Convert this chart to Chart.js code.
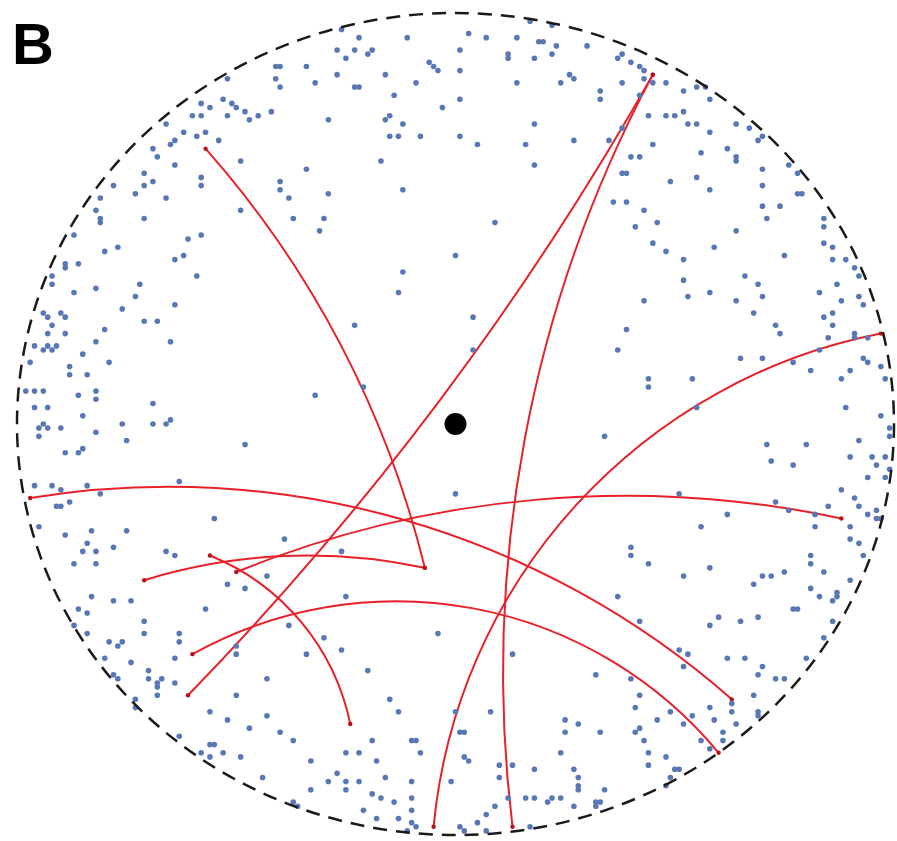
<!DOCTYPE html>
<html>
<head>
<meta charset="utf-8">
<script src="https://cdn.jsdelivr.net/npm/chart.js@4.4.1/dist/chart.umd.min.js"></script>
<style>
  html, body { margin: 0; padding: 0; background: #fff; }
  #wrap { width: 897px; height: 841px; }
</style>
</head>
<body>
<div id="wrap"><canvas id="diskChart" width="897" height="841"></canvas></div>
<script>
const panelLabel = 'B';

// centre of the disk
const centrePoint = [[0, 0]];

// sample points in disk coordinates (unit radius)
const samplePoints = [
  [-0.58,0.78],[-0.56,0.77],[-0.53,0.79],[-0.60,0.75],[-0.58,0.75],[-0.66,0.73],[-0.62,0.71],[-0.59,0.70],
  [-0.57,0.71],[-0.64,0.69],[-0.65,0.68],[-0.54,0.69],[-0.69,0.67],[-0.68,0.65],[-0.64,0.63],[-0.58,0.60],
  [-0.58,0.58],[-0.71,0.61],[-0.71,0.58],[-0.69,0.59],[-0.73,0.56],[-0.78,0.58],[-0.66,0.55],[-0.81,0.55],
  [-0.82,0.52],[-0.81,0.50],[-0.81,0.49],[-0.71,0.50],[-0.87,0.46],[-0.61,0.45],[-0.58,0.46],[-0.77,0.43],
  [-0.80,0.42],[-0.86,0.39],[-0.89,0.39],[-0.89,0.38],[-0.64,0.40],[-0.62,0.41],[-0.92,0.36],[-0.59,0.36],
  [-0.26,0.96],[-0.22,0.94],[-0.23,0.91],[-0.27,0.91],[-0.25,0.89],[-0.20,0.90],[-0.19,0.91],[-0.11,0.94],
  [-0.06,0.88],[-0.05,0.87],[-0.04,0.86],[-0.41,0.87],[-0.40,0.87],[-0.34,0.87],[-0.32,0.83],[-0.41,0.84],
  [-0.40,0.82],[-0.52,0.84],[-0.27,0.85],[-0.23,0.82],[-0.22,0.82],[-0.16,0.85],[-0.09,0.83],[-0.14,0.80],
  [-0.03,0.77],[-0.51,0.78],[-0.50,0.77],[-0.48,0.76],[-0.52,0.75],[-0.47,0.74],[-0.45,0.75],[-0.42,0.76],
  [-0.29,0.74],[-0.15,0.75],[-0.16,0.74],[-0.12,0.73],[-0.15,0.70],[-0.13,0.70],[-0.08,0.70],[-0.17,0.64],
  [-0.49,0.64],[-0.34,0.62],[-0.40,0.59],[-0.40,0.57],[-0.38,0.55],[-0.29,0.56],[-0.12,0.57],[-0.49,0.52],
  [-0.37,0.50],[-0.30,0.50],[-0.31,0.47],[-0.12,0.37],
  [0.03,0.95],[0.07,0.94],[0.01,0.91],[0.14,0.94],[0.17,0.98],[0.19,0.93],[0.20,0.93],[0.23,0.92],
  [0.22,0.90],[0.18,0.89],[0.12,0.90],[0.12,0.89],[0.30,0.92],[0.22,0.97],[0.38,0.90],[0.37,0.89],
  [0.40,0.88],[0.42,0.87],[0.43,0.86],[0.43,0.84],[0.45,0.83],[0.48,0.83],[0.38,0.83],[0.26,0.85],
  [0.27,0.84],[0.24,0.83],[0.14,0.83],[0.01,0.86],[0.01,0.79],[0.33,0.81],[0.33,0.79],[0.42,0.80],
  [0.44,0.75],[0.48,0.75],[0.50,0.75],[0.18,0.73],[0.38,0.72],[0.01,0.70],[0.05,0.68],[0.16,0.68],
  [0.27,0.69],[0.35,0.69],[0.45,0.68],[0.40,0.65],[0.42,0.65],[0.18,0.63],[0.38,0.61],[0.39,0.61],
  [0.49,0.59],[0.36,0.54],[0.39,0.54],[0.43,0.52],[0.46,0.49],[0.41,0.48],[0.09,0.49],[0.45,0.44],
  [0.48,0.42],[0.00,0.41],
  [0.52,0.81],[0.55,0.82],[0.57,0.82],[0.58,0.79],[0.52,0.76],[0.53,0.73],[0.55,0.73],[0.58,0.71],
  [0.64,0.73],[0.67,0.72],[0.69,0.69],[0.70,0.70],[0.56,0.66],[0.62,0.67],[0.64,0.65],[0.64,0.64],
  [0.70,0.62],[0.76,0.63],[0.78,0.61],[0.78,0.56],[0.79,0.56],[0.55,0.60],[0.58,0.57],[0.70,0.58],
  [0.70,0.53],[0.71,0.50],[0.74,0.53],[0.84,0.50],[0.84,0.48],[0.64,0.47],[0.59,0.43],[0.84,0.44],
  [0.86,0.43],[0.75,0.41],[0.86,0.40],[0.89,0.40],[0.91,0.38],[0.92,0.36],[0.52,0.40],[0.66,0.36],
  [0.52,0.35],
  [-0.92,0.34],[-0.87,0.32],[-0.82,0.33],[-0.72,0.34],[-0.73,0.31],[-0.76,0.28],[-0.64,0.29],[-0.94,0.27],
  [-0.93,0.26],[-0.90,0.27],[-0.89,0.26],[-0.92,0.24],[-0.71,0.25],[-0.68,0.25],[-0.93,0.22],[-0.89,0.22],
  [-0.80,0.23],[-0.82,0.20],[-0.65,0.20],[-0.96,0.19],[-0.94,0.18],[-0.93,0.19],[-0.91,0.19],[-0.92,0.18],
  [-0.85,0.17],[-0.97,0.15],[-0.88,0.14],[-0.88,0.12],[-0.84,0.12],[-0.79,0.15],[-0.98,0.08],[-0.96,0.08],
  [-0.94,0.08],[-0.86,0.07],[-0.82,0.08],[-0.82,0.06],[-0.96,0.04],[-0.93,0.04],[-0.69,0.05],[-0.85,0.02],
  [-0.94,0.00],[-0.95,-0.01],[-0.93,-0.01],[-0.95,-0.03],[-0.90,-0.01],[-0.82,-0.02],[-0.76,0.00],[-0.69,0.00],
  [-0.66,0.00],[-0.65,0.01],[-0.75,-0.04],[-0.89,-0.07],[-0.86,-0.07],[-0.85,-0.06],[-0.96,-0.15],[-0.92,-0.15],
  [-0.90,-0.16],[-0.84,-0.15],[-0.81,-0.17],[-0.63,-0.14],[-0.91,-0.20],[-0.90,-0.20],[-0.88,-0.19],[-0.55,-0.23],
  [-0.95,-0.25],[-0.89,-0.27],[-0.83,-0.26],[-0.75,-0.26],[-0.84,-0.29],[-0.85,-0.31],[-0.82,-0.31],[-0.78,-0.30],
  [-0.66,-0.31],[-0.64,-0.32],
  [-0.13,0.32],[-0.23,0.24],[-0.21,0.09],[-0.32,0.07],[-0.48,-0.05],[-0.39,-0.28],[-0.26,-0.31],
  [0.43,0.30],[0.04,0.26],[0.39,0.23],[0.04,0.18],[0.37,0.18],[0.44,0.11],[0.44,0.09],[0.34,-0.03],
  [0.00,-0.17],[0.40,-0.30],[0.40,-0.32],
  [0.53,0.31],[0.58,0.32],[0.64,0.30],[0.69,0.34],[0.70,0.31],[0.68,0.27],[0.83,0.32],[0.87,0.34],
  [0.88,0.30],[0.92,0.31],[0.93,0.29],[0.86,0.27],[0.84,0.26],[0.86,0.24],[0.73,0.24],[0.74,0.22],
  [0.85,0.21],[0.91,0.22],[0.91,0.21],[0.94,0.21],[0.83,0.18],[0.77,0.15],[0.81,0.13],[0.70,0.16],
  [0.65,0.16],[0.93,0.16],[0.94,0.15],[0.90,0.13],[0.88,0.11],[0.97,0.14],[0.98,0.11],[0.54,0.11],
  [0.55,0.04],[0.89,0.04],[0.97,0.02],[0.99,-0.01],[0.99,-0.03],[0.92,-0.04],[0.71,-0.05],[0.80,-0.05],
  [0.72,-0.09],[0.77,-0.10],[0.90,-0.08],[0.95,-0.08],[0.96,-0.10],[0.98,-0.08],[0.99,-0.11],[0.94,-0.13],
  [0.98,-0.13],[0.51,-0.17],[0.88,-0.16],[0.91,-0.18],[0.62,-0.22],[0.73,-0.19],[0.76,-0.21],[0.85,-0.20],
  [0.82,-0.22],[0.92,-0.20],[0.96,-0.21],[0.96,-0.23],[0.94,-0.22],[0.97,-0.23],[0.56,-0.25],[0.82,-0.25],
  [0.90,-0.25],[0.90,-0.28],[0.92,-0.29],[0.81,-0.32],[0.93,-0.32],
  [-0.87,-0.34],[-0.82,-0.34],[-0.83,-0.42],[-0.78,-0.43],[-0.74,-0.43],[-0.86,-0.45],[-0.84,-0.46],[-0.57,-0.45],
  [-0.71,-0.48],[-0.71,-0.51],[-0.84,-0.51],[-0.63,-0.51],[-0.63,-0.53],[-0.79,-0.53],[-0.77,-0.54],[-0.76,-0.53],
  [-0.87,-0.49],[-0.80,-0.57],[-0.74,-0.58],[-0.64,-0.57],[-0.70,-0.60],[-0.70,-0.62],[-0.67,-0.62],[-0.68,-0.63],
  [-0.68,-0.64],[-0.64,-0.63],[-0.78,-0.61],[-0.77,-0.62],[-0.68,-0.66],[-0.73,-0.67],[-0.73,-0.69],[-0.56,-0.70],
  [-0.63,-0.76],[-0.56,-0.78],[-0.55,-0.78],[-0.56,-0.81],[-0.53,-0.80],[-0.58,-0.80],
  [-0.52,-0.39],[-0.48,-0.40],[-0.43,-0.37],[-0.25,-0.42],[-0.38,-0.49],[-0.30,-0.52],[-0.34,-0.56],[-0.26,-0.55],
  [-0.50,-0.54],[-0.50,-0.56],[-0.20,-0.60],[-0.43,-0.62],[-0.50,-0.66],[-0.04,-0.51],[-0.15,-0.67],[-0.13,-0.70],
  [-0.43,-0.71],[-0.52,-0.72],[-0.47,-0.74],[-0.40,-0.75],[-0.37,-0.77],[-0.19,-0.77],[-0.10,-0.77],[-0.09,-0.77],
  [-0.08,-0.80],[-0.25,-0.80],[-0.22,-0.80],[-0.18,-0.82],[-0.49,-0.81],[-0.33,-0.82],[-0.27,-0.85],[-0.16,-0.86],
  [-0.10,-0.87],[-0.44,-0.86],[-0.33,-0.89],[-0.29,-0.87],[-0.25,-0.87],[-0.25,-0.89],[-0.22,-0.87],[-0.19,-0.90],
  [-0.17,-0.91],[-0.10,-0.91],[-0.14,-0.92],[-0.10,-0.94],[-0.37,-0.92],[-0.36,-0.93],[-0.21,-0.94],[-0.18,-0.96],
  [-0.13,-0.96],[-0.10,-0.97],[-0.09,-0.98],[-0.11,-0.99],
  [0.44,-0.34],[0.37,-0.42],[0.42,-0.48],[0.13,-0.56],[0.32,-0.61],[0.40,-0.62],[0.42,-0.66],[0.41,-0.69],
  [0.49,-0.70],[0.46,-0.72],[0.08,-0.70],[0.00,-0.70],[0.01,-0.75],[0.02,-0.75],[0.25,-0.72],[0.28,-0.73],
  [0.25,-0.75],[0.33,-0.75],[0.42,-0.74],[0.41,-0.75],[0.43,-0.77],[0.44,-0.80],[0.44,-0.83],[0.48,-0.81],
  [0.50,-0.84],[0.49,-0.86],[0.48,-0.88],[0.24,-0.80],[0.02,-0.81],[0.03,-0.82],[0.10,-0.83],[0.13,-0.83],
  [0.18,-0.84],[0.27,-0.84],[0.10,-0.86],[0.28,-0.86],[0.28,-0.88],[0.28,-0.89],[-0.01,-0.87],[0.34,-0.89],
  [0.12,-0.91],[0.16,-0.91],[0.18,-0.91],[0.21,-0.92],[0.22,-0.91],[0.24,-0.91],[0.32,-0.92],[0.33,-0.92],
  [0.27,-0.93],[0.32,-0.93],[0.09,-0.93],[0.07,-0.95],[0.05,-0.97],[0.01,-0.98],[0.02,-0.99],[0.07,-0.99],
  [0.17,-0.98],
  [0.52,-0.37],[0.58,-0.35],[0.68,-0.39],[0.70,-0.37],[0.72,-0.37],[0.75,-0.36],[0.81,-0.34],[0.84,-0.36],
  [0.90,-0.38],[0.81,-0.40],[0.83,-0.42],[0.87,-0.42],[0.87,-0.41],[0.86,-0.43],[0.78,-0.45],[0.77,-0.45],
  [0.60,-0.47],[0.58,-0.49],[0.65,-0.48],[0.69,-0.47],[0.86,-0.48],[0.84,-0.52],[0.51,-0.55],[0.53,-0.56],
  [0.52,-0.59],[0.62,-0.57],[0.66,-0.57],[0.70,-0.59],[0.69,-0.61],[0.73,-0.62],[0.75,-0.62],[0.80,-0.57],
  [0.68,-0.66],[0.58,-0.69],[0.63,-0.68],[0.63,-0.70],[0.69,-0.70],[0.69,-0.71],[0.59,-0.72],[0.64,-0.73],
  [0.54,-0.71],[0.52,-0.73],[0.61,-0.75],[0.61,-0.77],[0.56,-0.77],[0.58,-0.79],[0.51,-0.84]
];

// geodesic arcs: where each starts, a point it passes through, where it ends
const geodesicStarts = [
  [-0.57,0.67],[0.45,0.85],[0.45,0.85],[-0.05,-0.98],[-0.97,-0.18],[-0.50,-0.36],[-0.60,-0.56],[-0.56,-0.32],[-0.71,-0.38]
];
const geodesicMids = [
  [-0.21,0.08],[-0.15,-0.10],[0.12,-0.33],[0.29,-0.18],[-0.01,-0.27],[0.13,-0.19],[-0.01,-0.44],[-0.37,-0.46],[-0.35,-0.32]
];
const geodesicEnds = [
  [-0.07,-0.35],[-0.61,-0.66],[0.13,-0.98],[0.97,0.22],[0.63,-0.67],[0.88,-0.23],[0.60,-0.80],[-0.24,-0.73],[-0.07,-0.35]
];

const toXY = ([x, y]) => ({ x, y });

function circleThrough(a, b, c) {
  const d = 2 * (a.x * (b.y - c.y) + b.x * (c.y - a.y) + c.x * (a.y - b.y));
  if (Math.abs(d) < 1e-6) return null;
  const a2 = a.x * a.x + a.y * a.y, b2 = b.x * b.x + b.y * b.y, c2 = c.x * c.x + c.y * c.y;
  const ux = (a2 * (b.y - c.y) + b2 * (c.y - a.y) + c2 * (a.y - b.y)) / d;
  const uy = (a2 * (c.x - b.x) + b2 * (a.x - c.x) + c2 * (b.x - a.x)) / d;
  return { x: ux, y: uy, r: Math.hypot(a.x - ux, a.y - uy) };
}

function turn(from, to) {
  const t = (to - from) % (2 * Math.PI);
  return t < 0 ? t + 2 * Math.PI : t;
}

// dashed boundary and red geodesics, drawn under the points
const diskPlugin = {
  id: 'disk',
  beforeDatasetsDraw(chart) {
    const { ctx, scales: { x, y } } = chart;
    const px = p => ({ x: x.getPixelForValue(p[0]), y: y.getPixelForValue(p[1]) });

    ctx.save();
    ctx.strokeStyle = '#e8202a';
    ctx.lineWidth = 2;
    geodesicStarts.forEach((s, i) => {
      const a = px(s), b = px(geodesicMids[i]), c = px(geodesicEnds[i]);
      const circ = circleThrough(a, b, c);
      ctx.beginPath();
      if (!circ) {
        ctx.moveTo(a.x, a.y);
        ctx.lineTo(c.x, c.y);
      } else {
        const t1 = Math.atan2(a.y - circ.y, a.x - circ.x);
        const t2 = Math.atan2(b.y - circ.y, b.x - circ.x);
        const t3 = Math.atan2(c.y - circ.y, c.x - circ.x);
        const ccw = turn(t1, t2) > turn(t1, t3);
        ctx.arc(circ.x, circ.y, circ.r, t1, t3, ccw);
      }
      ctx.stroke();
    });
    ctx.restore();
  },
  afterDraw(chart) {
    const { ctx, scales: { x, y } } = chart;
    const cx = x.getPixelForValue(0), cy = y.getPixelForValue(0);
    const rx = x.getPixelForValue(1) - cx, ry = cy - y.getPixelForValue(1);
    ctx.save();
    ctx.strokeStyle = '#1a1a1a';
    ctx.lineWidth = 2.5;
    ctx.setLineDash([14, 9]);
    ctx.beginPath();
    ctx.ellipse(cx, cy, rx, ry, 0, 0, 2 * Math.PI);
    ctx.stroke();
    ctx.setLineDash([]);
    ctx.fillStyle = '#000';
    ctx.font = 'bold 58px "Liberation Sans", Arial, sans-serif';
    ctx.textBaseline = 'alphabetic';
    ctx.fillText(panelLabel, 12, 64);
    ctx.restore();
  }
};

new Chart(document.getElementById('diskChart'), {
  type: 'scatter',
  data: {
    datasets: [
      {
        label: 'points',
        data: samplePoints.map(toXY),
        pointRadius: 2.8,
        pointBackgroundColor: '#5a77b5',
        pointBorderWidth: 0,
        clip: false
      },
      {
        label: 'geodesic ends',
        data: geodesicStarts.concat(geodesicEnds).map(toXY),
        pointRadius: 2.2,
        pointBackgroundColor: '#b5121b',
        pointBorderWidth: 0,
        clip: false
      },
      {
        label: 'centre',
        data: centrePoint.map(toXY),
        pointRadius: 11,
        pointBackgroundColor: '#000',
        pointBorderWidth: 0,
        clip: false
      }
    ]
  },
  options: {
    responsive: false,
    animation: false,
    layout: { autoPadding: false, padding: { left: 17, right: 3, top: 13, bottom: 6 } },
    plugins: {
      legend: { display: false },
      tooltip: { enabled: false }
    },
    scales: {
      x: { type: 'linear', min: -1, max: 1, display: false },
      y: { type: 'linear', min: -1, max: 1, display: false }
    }
  },
  plugins: [diskPlugin]
});
</script>
</body>
</html>
